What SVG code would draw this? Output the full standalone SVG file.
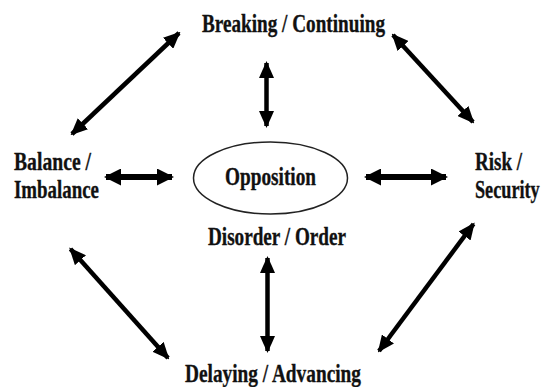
<svg xmlns="http://www.w3.org/2000/svg" width="545" height="387" viewBox="0 0 545 387">
  <style>
    text { font-family: 'Liberation Serif', 'DejaVu Serif', serif; font-weight: 700; font-size: 26px; fill: #111; stroke: #111; stroke-width: 0.35; }
    .link { stroke: #000; stroke-width: 4.5; fill: none; marker-start: url(#head); marker-end: url(#head); }
    .link.thick { stroke-width: 6; marker-start: url(#headWide); marker-end: url(#headWide); }
  </style>
  <defs>
    <marker id="head" viewBox="0 0 17 15" refX="15" refY="7.5" markerWidth="17" markerHeight="15" markerUnits="userSpaceOnUse" orient="auto-start-reverse">
      <path d="M0,0 L17,7.5 L0,15 Z" fill="#000"/>
    </marker>
    <marker id="headWide" viewBox="0 0 17 17" refX="15" refY="8.5" markerWidth="17" markerHeight="17" markerUnits="userSpaceOnUse" orient="auto-start-reverse">
      <path d="M0,0 L17,8.5 L0,17 Z" fill="#000"/>
    </marker>
  </defs>
  <rect width="545" height="387" fill="#fff"/>

  <g id="connectors">
    <line class="link" x1="72" y1="134" x2="179" y2="33"/>
    <line class="link" x1="266.5" y1="63" x2="266.5" y2="126"/>
    <line class="link" x1="393" y1="35" x2="473" y2="122"/>
    <line class="link thick" x1="106" y1="177" x2="172" y2="177"/>
    <line class="link thick" x1="366" y1="177" x2="446" y2="177"/>
    <line class="link" x1="70.5" y1="249" x2="168" y2="358"/>
    <line class="link" x1="267.5" y1="258" x2="267.5" y2="351"/>
    <line class="link" x1="473.5" y1="224" x2="379" y2="351"/>
  </g>

  <g id="node-breaking">
    <text x="202" y="32" textLength="183" lengthAdjust="spacingAndGlyphs">Breaking / Continuing</text>
  </g>
  <g id="node-balance">
    <text x="14" y="170" textLength="77" lengthAdjust="spacingAndGlyphs">Balance /</text>
    <text x="14" y="198" textLength="85" lengthAdjust="spacingAndGlyphs">Imbalance</text>
  </g>
  <g id="node-risk">
    <text x="475" y="170" textLength="47" lengthAdjust="spacingAndGlyphs">Risk /</text>
    <!-- horizontally condensed by a transform so the line stays inside the right edge -->
    <text transform="translate(475 198) scale(0.7 1)" x="0" y="0">Security</text>
  </g>
  <g id="node-opposition">
    <ellipse cx="270.5" cy="178" rx="77" ry="36" fill="none" stroke="#222" stroke-width="1.5"/>
    <text x="225" y="184.5" textLength="91" lengthAdjust="spacingAndGlyphs">Opposition</text>
  </g>
  <g id="node-disorder">
    <text x="208" y="245" textLength="138" lengthAdjust="spacingAndGlyphs">Disorder / Order</text>
  </g>
  <g id="node-delaying">
    <text x="185" y="382" textLength="176" lengthAdjust="spacingAndGlyphs">Delaying / Advancing</text>
  </g>
</svg>
